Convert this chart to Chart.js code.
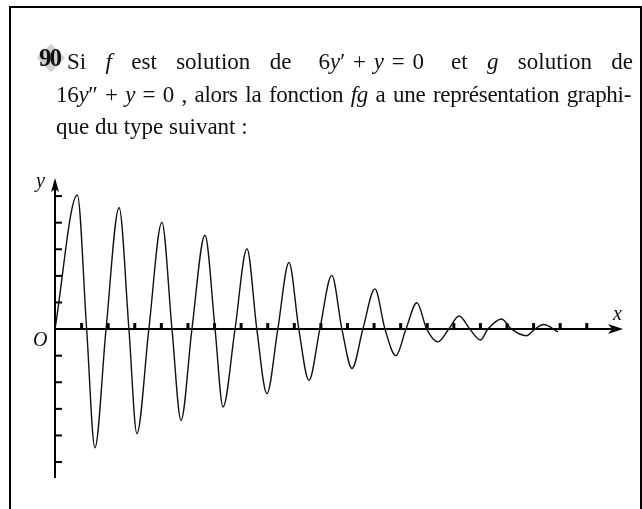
<!DOCTYPE html>
<html lang="fr">
<head>
<meta charset="utf-8">
<script src="https://cdn.jsdelivr.net/npm/chart.js@4.4.1/dist/chart.umd.min.js"></script>
<style>
  html, body { margin: 0; padding: 0; background: #fff; }
  #page { position: relative; width: 642px; height: 509px; overflow: hidden; font-family: "Liberation Serif", "DejaVu Serif", serif; color: #111; }
  #frame { position: absolute; left: 9px; top: 6px; width: 629px; height: 540px; border: 2px solid #000; }
  .line { position: absolute; font-size: 23px; line-height: 33px; white-space: nowrap; }
  .just { text-align: justify; text-align-last: justify; white-space: normal; }
  .m { display: inline-block; white-space: nowrap; word-spacing: 2px; }
  i { font-style: italic; }
  #num { position: absolute; left: 39px; top: 46px; width: 24px; z-index: 1; font-weight: bold; font-size: 25px; line-height: 24px; letter-spacing: -2px; }
  #num::before { content: ""; position: absolute; left: 2px; top: 2px; width: 20px; height: 20px; background: #9a9a9a; transform: rotate(45deg); z-index: -1; opacity: 0.45; }
  .lbl { position: absolute; font-style: italic; font-size: 20px; line-height: 20px; }
  canvas { position: absolute; left: 0; top: 0; }
</style>
</head>
<body>
<div id="page">
  <div id="frame"></div>
  <canvas id="myChart" width="642" height="509"></canvas>
  <div id="num">90</div>
  <div class="line just" style="left:67px; top:45px; width:566px;">Si <i>f</i> est solution de <span class="m">&nbsp;6<i>y</i>′ + <i>y</i> = 0&nbsp;</span> et <i>g</i> solution de</div>
  <div class="line just" style="left:56px; top:78px; width:575px; letter-spacing:-0.3px;"><span class="m">16<i>y</i>″ + <i>y</i> = 0</span> , alors la fonction <i>fg</i> a une représentation graphi-</div>
  <div class="line" style="left:56px; top:110px;">que du type suivant :</div>
  <div class="lbl" style="left:36px; top:170px;">y</div>
  <div class="lbl" style="left:33px; top:329px;">O</div>
  <div class="lbl" style="left:613px; top:303px;">x</div>
</div>
<script>
// points (peaks, troughs, zero crossings)
const xs = [0, 0.84, 1.19, 1.50, 1.92, 2.41, 2.78, 3.08, 3.53, 4.02, 4.40, 4.74, 5.15, 5.64, 6.02, 6.32,
            6.77, 7.22, 7.59, 7.97, 8.38, 8.80, 9.17, 9.55, 9.96, 10.41, 10.79, 11.17, 11.58, 12.03, 12.41,
            12.82, 13.20, 13.61, 13.98, 14.40, 14.81, 15.20, 15.60, 16.00, 16.28, 16.79, 17.17, 17.73,
            18.05, 18.38, 18.92];
const ys = [0, 5.04, 0, -4.46, 0, 4.56, 0, -3.93, 0, 4.01, 0, -3.43, 0, 3.53, 0, -2.93,
            0, 3.02, 0, -2.43, 0, 2.50, 0, -1.93, 0, 2.02, 0, -1.48, 0, 1.51, 0,
            -1.00, 0, 0.99, 0, -0.48, 0, 0.49, 0, -0.41, 0, 0.38, 0, -0.25,
            0, 0.17, -0.11];
const xTicks = [1, 2, 3, 4, 5, 6, 7, 8, 9, 10, 11, 12, 13, 14, 15, 16, 17, 18, 19, 20];
const yTicks = [-5, -4, -3, -2, -1, 1, 2, 3, 4, 5];

const axesPlugin = {
    id: 'axes',
    beforeDatasetsDraw(chart) {
        const ctx = chart.ctx;
        const xs_ = chart.scales.x, ys_ = chart.scales.y;
        const area = chart.chartArea;
        const x0 = xs_.getPixelForValue(0);
        const y0 = ys_.getPixelForValue(0);
        ctx.save();
        ctx.strokeStyle = '#000';
        ctx.fillStyle = '#000';
        ctx.lineWidth = 2;
        // y axis
        ctx.beginPath();
        ctx.moveTo(x0, area.bottom);
        ctx.lineTo(x0, area.top + 6);
        ctx.stroke();
        ctx.beginPath();
        ctx.moveTo(x0, area.top);
        ctx.lineTo(x0 - 4, area.top + 14);
        ctx.lineTo(x0, area.top + 11);
        ctx.lineTo(x0 + 4, area.top + 14);
        ctx.closePath();
        ctx.fill();
        // x axis
        const xEnd = area.right - 1;
        ctx.beginPath();
        ctx.moveTo(x0, y0);
        ctx.lineTo(xEnd - 6, y0);
        ctx.stroke();
        ctx.beginPath();
        ctx.moveTo(xEnd, y0);
        ctx.lineTo(xEnd - 15, y0 - 5);
        ctx.lineTo(xEnd - 11, y0);
        ctx.lineTo(xEnd - 15, y0 + 5);
        ctx.closePath();
        ctx.fill();
        // ticks
        xTicks.forEach(v => {
            const px = xs_.getPixelForValue(v);
            ctx.fillRect(px - 1.5, y0 - 6, 3, 6);
        });
        yTicks.forEach(v => {
            const py = ys_.getPixelForValue(v);
            ctx.beginPath();
            ctx.moveTo(x0, py);
            ctx.lineTo(x0 + 7, py);
            ctx.stroke();
        });
        ctx.restore();
    }
};

const points = [];
for (let i = 0; i < xs.length; i++) {
    points.push({x: xs[i], y: ys[i]});
}

const data = {
    datasets: [{
        data: points,
        borderColor: '#111',
        borderWidth: 1.4,
        pointRadius: 0,
        fill: false,
        cubicInterpolationMode: 'monotone'
    }]
};

const config = {
    type: 'line',
    data: data,
    plugins: [axesPlugin],
    options: {
        responsive: false,
        animation: false,
        devicePixelRatio: 1,
        layout: {padding: {left: 55, right: 18, top: 178, bottom: 31}},
        plugins: {legend: {display: false}, tooltip: {enabled: false}},
        scales: {
            x: {type: 'linear', min: 0, max: 21.4, display: false},
            y: {type: 'linear', min: -5.6, max: 5.68, display: false}
        }
    }
};

const ctx = document.getElementById('myChart').getContext('2d');
const myChart = new Chart(ctx, config);
</script>
</body>
</html>
